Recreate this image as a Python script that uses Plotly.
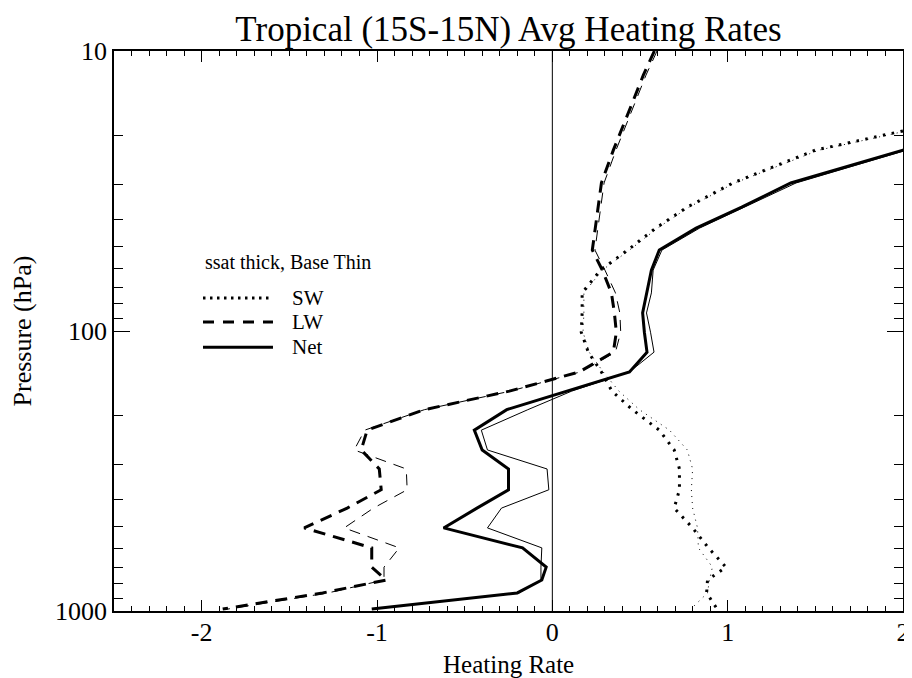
import plotly.graph_objects as go

# ---- data ----
pressure = [10, 12.2, 15.0, 18.4, 22.6, 29.6, 36.1, 42.9, 51.4, 60.6, 73.1, 86.2, 101, 119,
            140, 164, 191, 226, 266, 311, 369, 429, 505, 595, 697, 775, 862, 984]

sw_thick = [None, None, None, 2.15, 1.50, 1.03, 0.77, 0.59, 0.43, 0.275, 0.17, 0.17, 0.165, 0.205,
            0.28, 0.34, 0.457, 0.61, 0.695, 0.725, 0.725, 0.695, 0.80, 0.89, 0.99, 0.885, 0.88, 0.94]
sw_thin = [None, None, None, 2.17, 1.52, 1.04, 0.78, 0.60, 0.44, 0.285, 0.18, 0.18, 0.175, 0.21,
           0.29, 0.38, 0.497, 0.668, 0.77, 0.80, 0.793, 0.80, 0.828, 0.833, 0.913, 0.896, 0.885, 0.79]
lw_thick = [0.582, 0.519, 0.462, 0.405, 0.348, 0.28, 0.263, 0.245, 0.228, 0.285, 0.337, 0.354, 0.365, 0.348,
            0.154, -0.245, -0.73, -1.056, -1.09, -0.987, -0.976, -1.17, -1.415, -1.03, -1.03, -0.947, -1.31, -1.88]
lw_thin = [0.597, 0.534, 0.477, 0.42, 0.363, 0.295, 0.278, 0.26, 0.243, 0.30, 0.36, 0.385, 0.39, 0.36,
           0.16, -0.24, -0.73, -1.07, -1.13, -0.833, -0.828, -1.02, -1.187, -0.873, -0.96, -0.96, -1.28, -1.85]
net_thick = [None, None, None, 2.5, 2.00, 1.36, 1.08, 0.82, 0.61, 0.565, 0.54, 0.515, 0.525, 0.54,
             0.44, 0.09, -0.26, -0.445, -0.40, -0.25, -0.25, -0.43, -0.62, -0.17, -0.035, -0.06, -0.20, -1.03]
net_thin = [None, None, None, 2.52, 2.02, 1.39, 1.10, 0.84, 0.625, 0.575, 0.565, 0.537, 0.56, 0.58,
            0.44, 0.11, -0.14, -0.405, -0.37, -0.03, -0.02, -0.29, -0.37, -0.06, -0.065, -0.065, -0.19, -1.02]

x_tickvals = [-2, -1, 0, 1, 2]
x_ticktext = ["-2", "-1", "0", "1", "2"]
y_tickvals = [10, 100, 1000]
y_ticktext = ["10", "100", "1000"]
y_minor = [20, 30, 40, 50, 60, 70, 80, 90, 200, 300, 400, 500, 600, 700, 800, 900]

title_text = "Tropical (15S-15N) Avg Heating Rates"
legend_title = "ssat thick, Base Thin"
legend_names = ["SW", "LW", "Net"]

FONT = "Liberation Serif"
BLACK = "black"
FIG_W, FIG_H = 904, 670

fig = go.Figure()

series = [
    (sw_thin, 1, "1px,5px"),
    (lw_thin, 1, "11px,8px"),
    (net_thin, 1, "solid"),
    (sw_thick, 3, "2.5px,6.5px"),
    (lw_thick, 3, "12px,8px"),
    (net_thick, 3, "solid"),
]
for vals, w, dash in series:
    fig.add_trace(go.Scatter(x=vals, y=pressure, mode="lines",
                             line=dict(color=BLACK, width=w, dash=dash),
                             showlegend=False, hoverinfo="skip"))

# zero line
fig.add_shape(type="line", xref="x", yref="paper", x0=0, x1=0, y0=0, y1=1,
              line=dict(color=BLACK, width=1), layer="below")

# manual legend (paper coordinates)
leg_x0, leg_x1, lab_x = 0.1128, 0.2015, 0.223
leg_ys = [0.559, 0.516, 0.471]
leg_dash = ["2.5px,4.5px", "11px,9px", "solid"]
for name, yy, dsh in zip(legend_names, leg_ys, leg_dash):
    fig.add_shape(type="line", xref="paper", yref="paper", x0=leg_x0, x1=leg_x1, y0=yy, y1=yy,
                  line=dict(color=BLACK, width=3, dash=dsh))
    fig.add_annotation(text=name, xref="paper", yref="paper", x=lab_x, y=yy,
                       xanchor="left", yanchor="middle", showarrow=False,
                       font=dict(family=FONT, size=21, color=BLACK))
fig.add_annotation(text=legend_title, xref="paper", yref="paper", x=leg_x0, y=0.623,
                   xanchor="left", yanchor="middle", showarrow=False,
                   font=dict(family=FONT, size=20, color=BLACK))

# axis titles as annotations
fig.add_annotation(text="Heating Rate", xref="paper", yref="paper", x=0.5, y=-0.095,
                   xanchor="center", yanchor="middle", showarrow=False,
                   font=dict(family=FONT, size=25, color=BLACK))
fig.add_annotation(text="Pressure (hPa)", xref="paper", yref="paper", x=-0.116, y=0.5,
                   xanchor="center", yanchor="middle", showarrow=False, textangle=-90,
                   font=dict(family=FONT, size=26, color=BLACK))

fig.update_layout(
    width=FIG_W, height=FIG_H, autosize=False,
    margin=dict(l=106, r=9, t=43, b=67, autoexpand=False),
    paper_bgcolor="white", plot_bgcolor="white",
    font=dict(family=FONT, color=BLACK),
    title=dict(text=title_text, x=0.5, xref="paper", xanchor="center",
               y=1 - 21 / FIG_H, yref="container", yanchor="middle",
               font=dict(family=FONT, size=35, color=BLACK)),
    xaxis=dict(range=[-2.5, 2], tickmode="array", tickvals=x_tickvals, ticktext=x_ticktext,
               automargin=False,
               showgrid=False, zeroline=False, showline=True, linecolor=BLACK, linewidth=1.5,
               mirror="ticks", ticks="inside", ticklen=11, tickwidth=1, tickcolor=BLACK,
               tickfont=dict(family=FONT, size=26, color=BLACK), ticklabelstandoff=-3,
               minor=dict(dtick=0.1, tick0=0, ticks="inside", ticklen=5, tickwidth=1,
                          tickcolor=BLACK, showgrid=False)),
    yaxis=dict(type="log", range=[3, 1], autorange=False, tickmode="array",
               tickvals=y_tickvals, ticktext=y_ticktext, automargin=False,
               showgrid=False, zeroline=False, showline=True, linecolor=BLACK, linewidth=1.5,
               mirror="ticks", ticks="inside", ticklen=16, tickwidth=1, tickcolor=BLACK,
               tickfont=dict(family=FONT, size=26, color=BLACK), ticklabelstandoff=0,
               minor=dict(tickmode="array", tickvals=y_minor, ticks="inside", ticklen=9,
                          tickwidth=1, tickcolor=BLACK, showgrid=False)),
)

fig.write_html("out.html")
